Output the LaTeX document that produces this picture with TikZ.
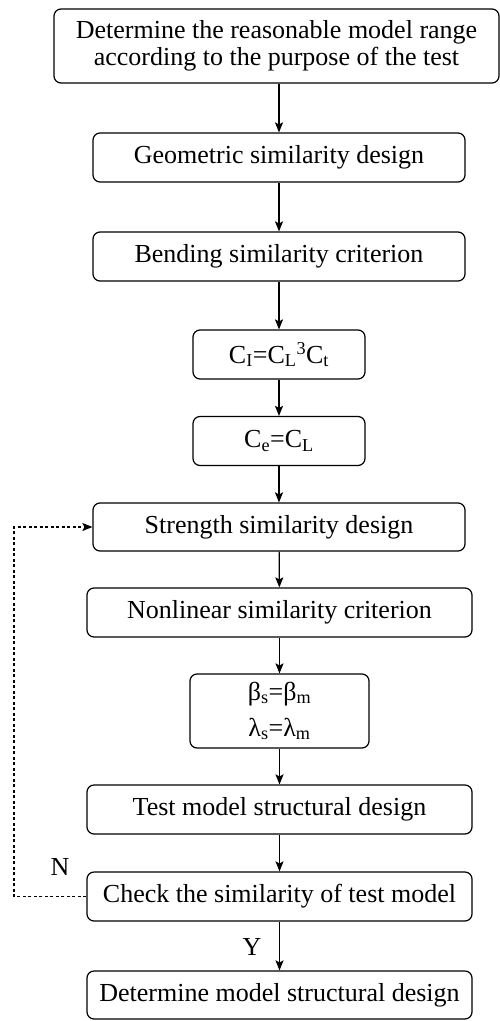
\documentclass[tikz,border=0pt]{standalone}
\usepackage{fontspec}
\setmainfont{Liberation Serif}
\usetikzlibrary{arrows.meta}
\begin{document}
\begin{tikzpicture}[x=1pt,y=-1pt,
  box/.style={draw, line width=1.2pt, rounded corners=7pt, align=center, inner sep=0pt,
    font=\fontsize{26}{27}\selectfont},
  flow/.style={line width=1.2pt, -{Stealth[length=10pt,width=8pt,inset=2pt]}},
  fb/.style={line width=1.1pt, dash pattern=on 3pt off 2.5pt, -{Stealth[length=10pt,width=8pt,inset=2pt]}},
  lbl/.style={font=\fontsize{26}{27}\selectfont, inner sep=0pt}]
\useasboundingbox (0,0) rectangle (500,1021);
\node[box, minimum width=445pt, minimum height=74pt] (b1) at (276.5,46) {Determine the reasonable model range\\according to the purpose of the test};
\node[box, minimum width=372pt, minimum height=49pt] (b2) at (279,157.5) {Geometric similarity design};
\node[box, minimum width=372pt, minimum height=49pt] (b3) at (279,256.5) {Bending similarity criterion};
\node[box, minimum width=172pt, minimum height=49pt] (b4) at (279,354.5) {C\textsubscript{I}=C\textsubscript{L}\textsuperscript{3}C\textsubscript{t}};
\node[box, minimum width=172pt, minimum height=49pt] (b5) at (279,441) {C\textsubscript{e}=C\textsubscript{L}};
\node[box, minimum width=372pt, minimum height=48pt] (b6) at (279,527) {Strength similarity design};
\node[box, minimum width=385pt, minimum height=49pt] (b7) at (279.5,612.5) {Nonlinear similarity criterion};
\node[box, minimum width=179pt, minimum height=74pt, font=\fontsize{26}{36}\selectfont] (b8) at (279.5,711) {β\textsubscript{s}=β\textsubscript{m}\\λ\textsubscript{s}=λ\textsubscript{m}};
\node[box, minimum width=385pt, minimum height=49pt] (b9) at (279.5,809.5) {Test model structural design};
\node[box, minimum width=385pt, minimum height=49pt] (b10) at (279.5,896.5) {Check the similarity of test model};
\node[box, minimum width=385pt, minimum height=48pt] (b11) at (279.5,995) {Determine model structural design};
\coordinate (c1) at (14,896.5);
\coordinate (c2) at (14,527);
\draw[flow] (b1.south -| 279,0) -- (b2.north -| 279,0);
\draw[flow] (b2) -- (b3);
\draw[flow] (b3) -- (b4);
\draw[flow] (b4) -- (b5);
\draw[flow] (b5) -- (b6);
\draw[flow] (b6) -- (b7);
\draw[flow] (b7) -- (b8);
\draw[flow] (b8) -- (b9);
\draw[flow] (b9) -- (b10);
\draw[flow] (b10) -- (b11);
\draw[fb] (b10.west) -- (c1) -- (c2) -- (b6.west);
\node[lbl] (n) at (60,867) {N};
\node[lbl] (y) at (252,947) {Y};
\end{tikzpicture}
\end{document}
